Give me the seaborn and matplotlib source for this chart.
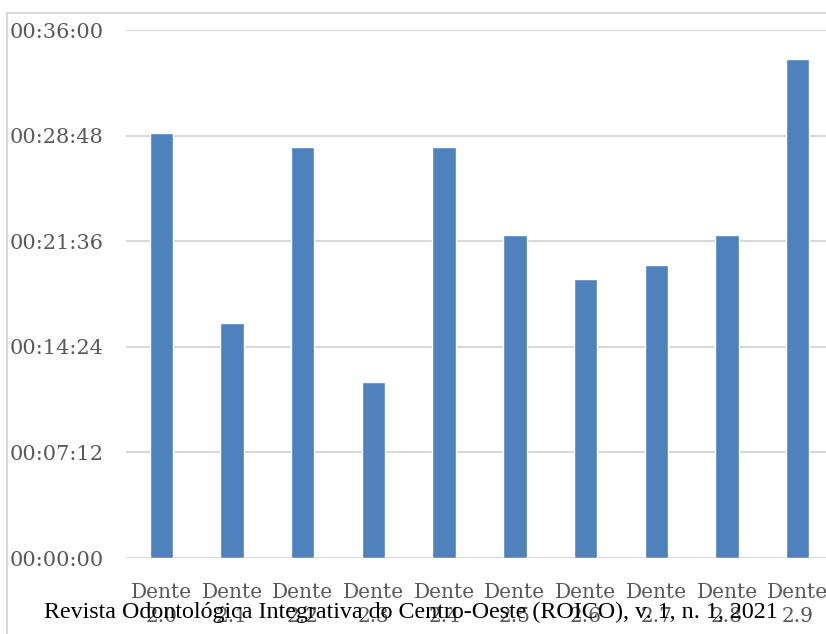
import matplotlib
matplotlib.use("Agg")
import matplotlib.pyplot as plt
from matplotlib.patches import Rectangle
from matplotlib.ticker import FuncFormatter, FixedLocator
import seaborn as sns
import pandas as pd

# Tempo de procedimento por dente (hh:mm:ss)
dentes = ["Dente 2.0", "Dente 2.1", "Dente 2.2", "Dente 2.3", "Dente 2.4",
          "Dente 2.5", "Dente 2.6", "Dente 2.7", "Dente 2.8", "Dente 2.9"]
tempos = ["00:29:00", "00:16:00", "00:28:00", "00:12:00", "00:28:00",
          "00:22:00", "00:19:00", "00:20:00", "00:22:00", "00:34:00"]
y_ticks = ["00:00:00", "00:07:12", "00:14:24", "00:21:36", "00:28:48", "00:36:00"]
fonte = "Revista Odontológica Integrativa do Centro-Oeste (ROICO), v. 1, n. 1, 2021"


def to_seconds(hms):
    h, m, s = (int(p) for p in hms.split(":"))
    return h * 3600 + m * 60 + s


def fmt_hms(v, pos=None):
    v = int(round(v))
    return f"{v // 3600:02d}:{(v % 3600) // 60:02d}:{v % 60:02d}"


df = pd.DataFrame({
    "dente": [d.replace(" ", "\n") for d in dentes],
    "segundos": [to_seconds(t) for t in tempos],
})

sns.set_theme(style="white")
plt.rcParams["font.family"] = ["DejaVu Serif"]

W, H = 826, 634
fig = plt.figure(figsize=(W / 100, H / 100), dpi=100)

# outer chart frame
fig.patches.append(Rectangle((7 / W, -0.05), 1.2, (H - 13) / H + 0.05,
                             transform=fig.transFigure, fill=False,
                             edgecolor="#d9d9d9", linewidth=1.5, zorder=0))

left, right = 126 / W, 833 / W
bottom, top = (H - 558) / H, (H - 30) / H
ax = fig.add_axes([left, bottom, right - left, top - bottom])
ax.set_facecolor("none")

sns.barplot(data=df, x="dente", y="segundos", color="#4f81bd",
            saturation=1, width=0.33, ax=ax, zorder=3)

yvals = [to_seconds(t) for t in y_ticks]
ax.set_ylim(0, yvals[-1])
ax.set_xlim(-0.5, len(dentes) - 0.5)
ax.yaxis.set_major_locator(FixedLocator(yvals))
ax.yaxis.set_major_formatter(FuncFormatter(fmt_hms))
ax.grid(axis="y", color="#d9d9d9", linewidth=1.5, zorder=0)
ax.set_axisbelow(True)
for s in ax.spines.values():
    s.set_visible(False)
ax.set_xlabel("")
ax.set_ylabel("")
ax.tick_params(axis="both", length=0, colors="#595959", labelsize=15)
ax.tick_params(axis="x", labelsize=14.5, pad=18)
ax.tick_params(axis="y", pad=16)
for lbl in ax.get_xticklabels():
    lbl.set_linespacing(1.3)

fig.text(0.497, (H - 612) / H, fonte, ha="center", va="center",
         family="Liberation Serif", fontsize=17.3, color="black")

fig.savefig("out.png", dpi=100)
